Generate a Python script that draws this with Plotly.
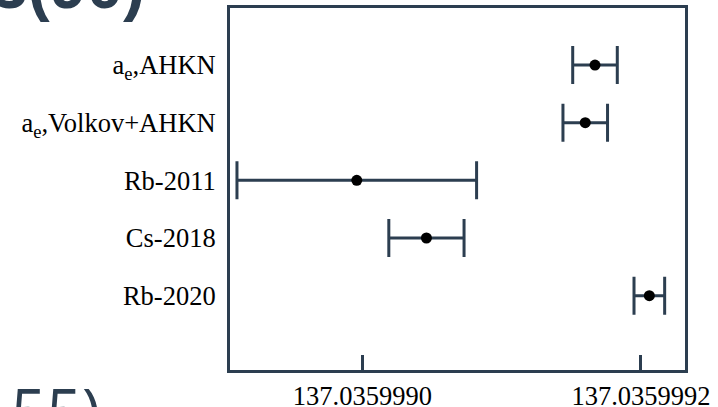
import plotly.graph_objects as go

# Determinations of the inverse fine-structure constant
labels = ["a<sub>e</sub>,AHKN", "a<sub>e</sub>,Volkov+AHKN", "Rb-2011", "Cs-2018", "Rb-2020"]
alpha_inv = [137.035999167, 137.035999160, 137.035998996, 137.035999046, 137.035999206]
uncert = [0.000000016, 0.000000016, 0.000000086, 0.000000027, 0.000000011]

x_tickvals = [137.0359990, 137.0359992]
x_ticktext = ["137.0359990", "137.0359992"]

ink = "#2c3e50"
serif = "Liberation Serif, Times New Roman, serif"

# top entry drawn highest
ypos = [len(labels) - 1 - i for i in range(len(labels))]

fig = go.Figure()
fig.add_trace(go.Scatter(
    x=alpha_inv,
    y=ypos,
    mode="markers",
    marker=dict(color="black", size=11),
    error_x=dict(type="data", array=uncert, symmetric=True,
                 color=ink, thickness=3, width=19),
    showlegend=False,
    cliponaxis=False,
))

fig.update_layout(
    width=718, height=407,
    margin=dict(l=230, r=33, t=8, b=37),
    paper_bgcolor="white",
    plot_bgcolor="white",
    xaxis=dict(
        range=[137.035998905, 137.0359992316],
        tickvals=x_tickvals, ticktext=x_ticktext,
        ticks="inside", ticklen=15, tickwidth=3, tickcolor=ink,
        showline=True, linewidth=3, linecolor=ink, mirror=True,
        showgrid=False, zeroline=False, automargin=False,
        tickfont=dict(family=serif, size=26.5, color="black"),
    ),
    yaxis=dict(
        range=[-1.29, 4.99],
        tickvals=ypos, ticktext=labels,
        ticks="", ticklabelstandoff=6,
        showline=True, linewidth=3, linecolor=ink, mirror=True,
        showgrid=False, zeroline=False, automargin=False,
        tickfont=dict(family=serif, size=26.5, color="black"),
    ),
    annotations=[
        dict(text="<b>3(90)</b>", xref="paper", yref="paper",
             x=-230 / 455 + 147 / 455, y=1 - 16 / 362,
             xanchor="right", yanchor="bottom", showarrow=False,
             font=dict(family="Liberation Sans, Arial, sans-serif", size=66, color=ink)),
        dict(text="55)", xref="paper", yref="paper",
             x=-230 / 455 + 9 / 455, y=4 / 362,
             xanchor="left", yanchor="top", showarrow=False,
             font=dict(family="Open Sans, sans-serif", size=62, color=ink)),
    ],
)

fig.write_html("out.html")
